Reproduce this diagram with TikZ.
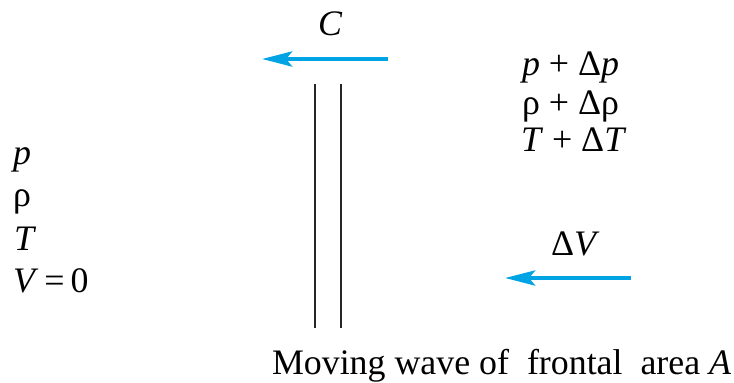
\documentclass[tikz,border=0pt]{standalone}
\usepackage{fontspec}
\setmainfont{LiberationSerif}[Extension=.ttf,UprightFont=*-Regular,ItalicFont=*-Italic,BoldFont=*-Bold]
\usetikzlibrary{arrows.meta}
\definecolor{flowblue}{RGB}{0,163,227}
\begin{document}
\begin{tikzpicture}[x=1bp,y=-1bp,
  lbl/.style={inner sep=0pt,outer sep=0pt,anchor=base west,font=\fontsize{36}{40}\selectfont},
  flow/.style={draw=flowblue,line width=4.5bp,-{Stealth[length=30bp,width=15bp,inset=6bp]}},
  wave/.style={draw=black!85,line width=1.3bp}]
\useasboundingbox (0,0) rectangle (734,382);
% wave front
\coordinate (w1t) at (315,84); \coordinate (w1b) at (315,328);
\coordinate (w2t) at (341,84); \coordinate (w2b) at (341,328);
\draw[wave] (w1t) -- (w1b);
\draw[wave] (w2t) -- (w2b);
% wave speed
\node[lbl] (C) at (318,35) {\textit{C}};
\coordinate (ctail) at (388,59); \coordinate (ctip) at (262,59);
\draw[flow] (ctail) -- (ctip);
% upstream state
\node[lbl] (pr) at (522,75) {\textit{p} + Δ\textit{p}};
\node[lbl] (rhor) at (522,114) {ρ + Δρ};
\node[lbl] (Tr) at (521,151) {\textit{T} + Δ\textit{T}};
\node[lbl] (dV) at (551,255) {Δ\textit{V}};
\coordinate (vtail) at (631,278); \coordinate (vtip) at (505,278);
\draw[flow] (vtail) -- (vtip);
% downstream state
\node[lbl] (pl) at (13,164) {\textit{p}};
\node[lbl] (rhol) at (13,206) {ρ};
\node[lbl] (Tl) at (14,250) {\textit{T}};
\node[lbl] (Vl) at (13,292) {\textit{V}\,=\,0};
% caption
\node[lbl] (cap) at (272,374) {Moving wave of\ \ frontal\ \ area \textit{A}};
\end{tikzpicture}
\end{document}
